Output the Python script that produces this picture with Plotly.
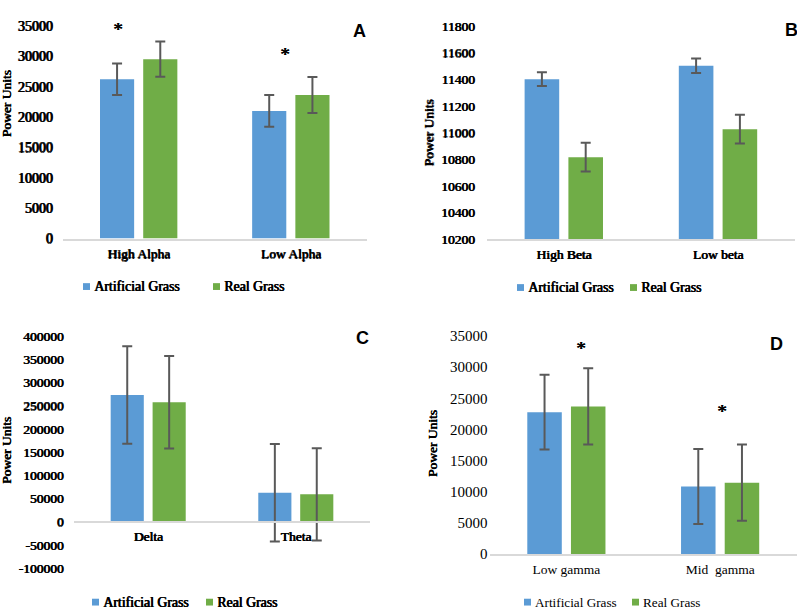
import plotly.graph_objects as go

W, H = 797, 615

# ---------------- data ----------------
series_names = ["Artificial Grass", "Real Grass"]

a_cats = ["High Alpha", "Low Alpha"]
a_art = [26200, 21000]
a_art_err = [2580, 2620]
a_real = [29500, 23600]
a_real_err = [2900, 2960]
a_ticks = [0, 5000, 10000, 15000, 20000, 25000, 30000, 35000]
a_star_cats = ["High Alpha", "Low Alpha"]
a_star_y = [35000, 31000]

b_cats = ["High Beta", "Low beta"]
b_art = [11400, 11500]
b_art_err = [52, 54]
b_real = [10815, 11025]
b_real_err = [107, 107]
b_ticks = [10200, 10400, 10600, 10800, 11000, 11200, 11400, 11600, 11800]

c_cats = ["Delta", "Theta"]
c_art = [272700, 62100]
c_art_err = [105000, 105000]
c_real = [257200, 58700]
c_real_err = [99700, 99300]
c_ticks = [-100000, -50000, 0, 50000, 100000, 150000, 200000, 250000, 300000, 350000, 400000]

d_cats = ["Low gamma", "Mid\u00a0 gamma"]
d_art = [22770, 10840]
d_art_err = [5990, 6020]
d_real = [23700, 11460]
d_real_err = [6125, 6125]
d_ticks = [0, 5000, 10000, 15000, 20000, 25000, 30000, 35000]
d_star_cats = ["Low gamma", "Mid\u00a0 gamma"]
d_star_y = [33700, 23500]

panel_letters = ["A", "B", "C", "D"]

# ---------------- style ----------------
BLUE = "#5B9BD5"
GREEN = "#70AD47"
ERR = "#595959"
AXIS = "#D9D9D9"
SERIF = "Liberation Serif"
SANS = "Liberation Sans"
FAUX_BOLD = "0.8px 0px 0px #000000, 0.4px 0.3px 0px #000000"


def serif_font(size, bold):
    f = dict(family=SERIF, size=size, color="black")
    if bold:
        f["shadow"] = FAUX_BOLD
    return f


def px(x):
    return x / W


def py(y):
    return 1 - y / H


panels = [
    dict(cats=a_cats, art=a_art, art_err=a_art_err, real=a_real, real_err=a_real_err,
         ticks=a_ticks, xdom=(62.6, 366.9), ydom=(236.7, 18.3), bold=True, tsize=14,
         ystand=9, title=(6, 99), letter=(359, 24), legend=(83, 213, 286), xpos=None),
    dict(cats=b_cats, art=b_art, art_err=b_art_err, real=b_real, real_err=b_real_err,
         ticks=b_ticks, xdom=(486.7, 795.1), ydom=(237.3, 18.3), bold=True, tsize=13.5,
         ystand=11, title=(429, 128), letter=(791, 23), legend=(517, 630, 287), xpos=None),
    dict(cats=c_cats, art=c_art, art_err=c_art_err, real=c_real, real_err=c_real_err,
         ticks=c_ticks, xdom=(74.4, 369.6), ydom=(575, 336.7), bold=True, tsize=13.5,
         ystand=10, title=(6, 455), letter=(362, 339), legend=(92, 206, 610), xpos=527.3),
    dict(cats=d_cats, art=d_art, art_err=d_art_err, real=d_real, real_err=d_real_err,
         ticks=d_ticks, xdom=(489.5, 797), ydom=(560.7, 336.7), bold=False, tsize=15,
         ystand=1, title=(432, 448), letter=(776, 345), legend=(524, 632, 610), xpos=None),
]

fig = go.Figure()
layout = dict(
    width=W, height=H, margin=dict(l=0, r=0, t=0, b=0, pad=0), autosize=False,
    paper_bgcolor="white", plot_bgcolor="white",
    barmode="group", bargap=0.432, bargroupgap=0.21,
    showlegend=False,
)
annotations = []
shapes = []

for i, p in enumerate(panels):
    n = "" if i == 0 else str(i + 1)
    xa, ya = "x" + n, "y" + n
    bold = p["bold"]
    for name, vals, errs, col in [(series_names[0], p["art"], p["art_err"], BLUE),
                                  (series_names[1], p["real"], p["real_err"], GREEN)]:
        fig.add_trace(go.Bar(
            x=p["cats"], y=vals, name=name, marker_color=col, marker_line_width=0,
            error_y=dict(type="data", array=errs, color=ERR, thickness=2, width=5),
            xaxis=xa, yaxis=ya, showlegend=False,
        ))
    xax = dict(domain=[px(p["xdom"][0]), px(p["xdom"][1])], showgrid=False, zeroline=False,
               showline=True, linecolor=AXIS, linewidth=1.5, ticks="",
               tickfont=serif_font(13.5, bold),
               ticklabelstandoff=2, fixedrange=True)
    if p["xpos"] is not None:
        xax.update(anchor="free", position=py(p["xpos"]))
    else:
        xax.update(anchor=ya)
    yax = dict(domain=[py(p["ydom"][0]), py(p["ydom"][1])], anchor=xa,
               range=[p["ticks"][0], p["ticks"][-1]], tickmode="array",
               tickvals=p["ticks"], ticktext=[str(t) for t in p["ticks"]],
               showgrid=False, zeroline=False, showline=False, ticks="",
               tickfont=serif_font(p["tsize"], bold),
               ticklabelstandoff=p["ystand"], fixedrange=True)
    layout["xaxis" + n] = xax
    layout["yaxis" + n] = yax

    # axis title
    annotations.append(dict(text="Power Units", textangle=-90, xref="paper", yref="paper",
                            x=px(p["title"][0]), y=py(p["title"][1]), showarrow=False,
                            xanchor="center", yanchor="middle",
                            font=serif_font(13.5, True)))
    # panel letter
    annotations.append(dict(text=panel_letters[i], xref="paper", yref="paper",
                            x=px(p["letter"][0]), y=py(p["letter"][1]), showarrow=False,
                            xanchor="center", yanchor="middle",
                            font=dict(family=SANS, size=18, color="black", weight="bold")))
    # legend (drawn)
    lx1, lx2, ly = p["legend"]
    for sx, name, col in [(lx1, series_names[0], BLUE), (lx2, series_names[1], GREEN)]:
        shapes.append(dict(type="rect", xref="paper", yref="paper",
                           x0=px(sx), x1=px(sx + 7), y0=py(ly + 3.5), y1=py(ly - 3.5),
                           fillcolor=col, line_width=0))
        annotations.append(dict(text=name, xref="paper", yref="paper",
                                x=px(sx + 9), y=py(ly), showarrow=False,
                                xanchor="left", yanchor="middle",
                                font=serif_font(13.8 if bold else 13.2, bold)))

# significance stars
for cats, ys, shifts, n in [(a_star_cats, a_star_y, [-20.4, -5.8], ""),
                            (d_star_cats, d_star_y, [14.3, 1.7], "4")]:
    for c, yv, s in zip(cats, ys, shifts):
        annotations.append(dict(text="*", xref="x" + n, yref="y" + n, x=c, y=yv,
                                xshift=s, yshift=-4, showarrow=False,
                                xanchor="center", yanchor="middle",
                                font=serif_font(19, True)))

layout["annotations"] = annotations
layout["shapes"] = shapes
fig.update_layout(**layout)

fig.write_html("out.html", config={"displayModeBar": False},
               post_script="document.body.style.margin='0';")
